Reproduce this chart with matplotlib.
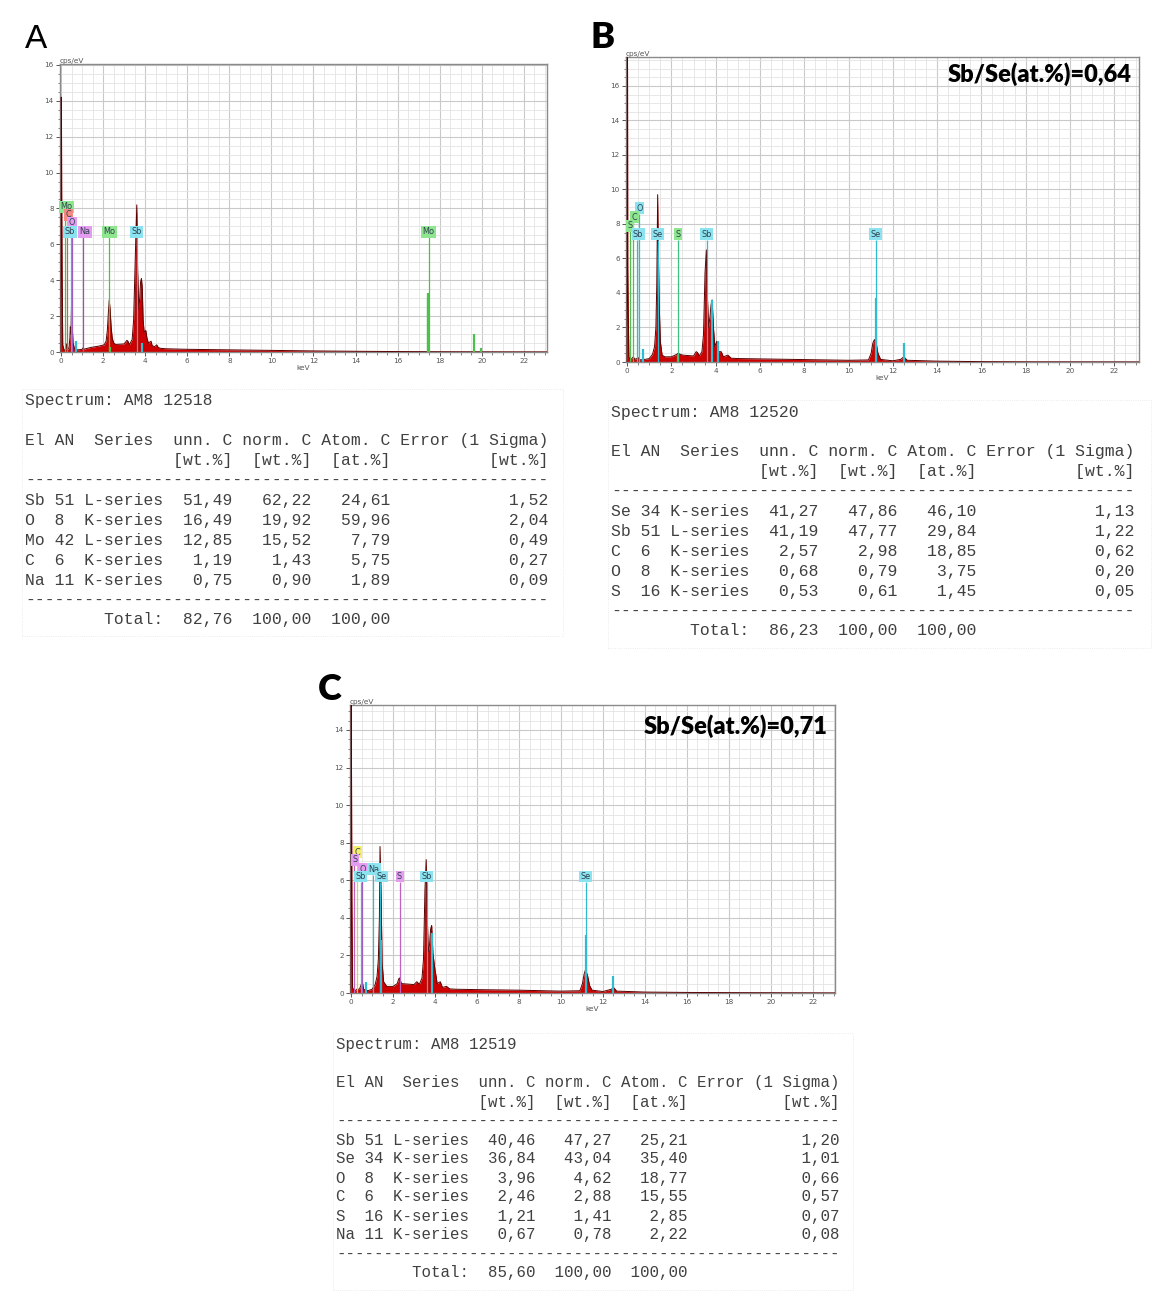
import matplotlib
matplotlib.use('Agg')
import matplotlib.pyplot as plt
from matplotlib.ticker import MultipleLocator
from matplotlib.patches import Rectangle

W, H = 1153, 1295
fig = plt.figure(figsize=(W / 100, H / 100), dpi=100)
fig.patch.set_facecolor('white')

# ---------------- DATA ----------------
# Spectrum A (keV, cps/eV)
A_spec = [(0.00, 0.0), (0.01, 14.2), (0.02, 13.2), (0.03, 9.0), (0.05, 4.5), (0.08, 0.4),
          (0.15, 0.08), (0.22, 0.15), (0.26, 0.45), (0.30, 0.12), (0.38, 0.25), (0.42, 0.8),
          (0.44, 1.4), (0.47, 1.0), (0.50, 2.8), (0.53, 1.5), (0.57, 0.5), (0.65, 0.15),
          (0.80, 0.12), (1.00, 0.15), (1.04, 0.22), (1.10, 0.16), (1.40, 0.25), (1.80, 0.33),
          (2.05, 0.40), (2.14, 0.60), (2.20, 1.2), (2.25, 2.2), (2.29, 2.9), (2.33, 2.4),
          (2.38, 1.4), (2.43, 0.8), (2.50, 0.5), (2.60, 0.42), (3.00, 0.45), (3.13, 0.65),
          (3.18, 0.6), (3.25, 0.4), (3.38, 0.7), (3.45, 1.8), (3.50, 4.0), (3.55, 6.2),
          (3.60, 8.2), (3.64, 4.5), (3.70, 2.4), (3.74, 3.0), (3.78, 3.9), (3.82, 4.1),
          (3.86, 3.6), (3.90, 1.8), (3.95, 1.1), (4.03, 1.2), (4.08, 0.8), (4.15, 0.5),
          (4.28, 0.6), (4.33, 0.35), (4.45, 0.3), (4.55, 0.4), (4.62, 0.25), (4.75, 0.2),
          (5.0, 0.18), (6.0, 0.15), (8.0, 0.12), (10.0, 0.09), (12.0, 0.06), (14.0, 0.04),
          (16.0, 0.025), (18.0, 0.015), (20.0, 0.01), (23.1, 0.005)]
# element-coloured fitted peaks A
A_ovl_kev = [0.70, 3.86, 17.42, 17.46, 19.61, 19.95, 2.32]
A_ovl_cps = [0.6, 0.5, 3.3, 3.0, 1.0, 0.2, 0.3]
A_ovl_col = ['#30bcd0', '#30bcd0', '#4cc04c', '#4cc04c', '#4cc04c', '#4cc04c', '#4cc04c']
# element markers A
A_mark_el = ['Mo', 'C', 'O', 'Sb', 'Na', 'Mo', 'Sb', 'Mo']
A_mark_kev = [0.19, 0.28, 0.52, 0.46, 1.04, 2.29, 3.60, 17.48]
A_mark_lbl = [0.26, 0.36, 0.52, 0.42, 1.12, 2.29, 3.60, 17.48]
A_mark_lvl = [8.1, 7.65, 7.2, 6.7, 6.7, 6.7, 6.7, 6.7]
A_mark_ln = ['#4cc04c', '#b07050', '#b050c0', '#30bcd0', '#a050b0', '#4cc04c', '#30bcd0', '#4cc04c']
A_mark_bx = ['#8ee68e', '#f28b82', '#e49cf0', '#8be3ef', '#e49cf0', '#8ee68e', '#8be3ef', '#8ee68e']

# Spectrum B
B_spec = [(0.00, 0.0), (0.01, 18.0), (0.02, 17.0), (0.03, 5.5), (0.05, 3.0), (0.08, 0.3),
          (0.15, 0.1), (0.28, 0.3), (0.35, 0.15), (0.50, 0.25), (0.60, 0.12), (0.80, 0.15),
          (1.00, 0.2), (1.15, 0.45), (1.24, 0.9), (1.30, 2.0), (1.34, 4.5), (1.38, 9.7),
          (1.41, 6.5), (1.45, 3.3), (1.50, 1.2), (1.58, 0.4), (1.70, 0.3), (2.00, 0.3),
          (2.25, 0.45), (2.30, 0.5), (2.50, 0.4), (3.00, 0.35), (3.12, 0.6), (3.18, 0.55),
          (3.26, 0.35), (3.38, 0.6), (3.45, 1.6), (3.52, 5.2), (3.58, 6.5), (3.62, 4.0),
          (3.68, 2.0), (3.74, 2.6), (3.79, 3.3), (3.84, 3.6), (3.90, 2.0), (3.96, 0.9),
          (4.05, 1.2), (4.10, 0.6), (4.25, 0.6), (4.35, 0.3), (4.55, 0.4), (4.70, 0.22),
          (5.0, 0.2), (6.0, 0.18), (8.0, 0.14), (10.0, 0.1), (10.9, 0.12), (11.02, 0.5),
          (11.10, 1.1), (11.17, 1.3), (11.25, 1.1), (11.33, 0.5), (11.45, 0.15), (12.0, 0.07),
          (12.35, 0.15), (12.50, 0.3), (12.65, 0.1), (14.0, 0.05), (16.0, 0.02), (18.0, 0.01),
          (23.1, 0.005)]
B_ovl_kev = [0.72, 3.84, 4.10, 11.22, 12.50, 2.31]
B_ovl_cps = [0.75, 3.6, 1.2, 3.7, 1.1, 0.4]
B_ovl_col = ['#30bcd0', '#30bcd0', '#30bcd0', '#30bcd0', '#30bcd0', '#4cc04c']
B_mark_el = ['O', 'C', 'S', 'Sb', 'Se', 'S', 'Sb', 'Se']
B_mark_kev = [0.52, 0.28, 0.15, 0.46, 1.38, 2.31, 3.60, 11.22]
B_mark_lbl = [0.55, 0.32, 0.15, 0.50, 1.38, 2.31, 3.60, 11.22]
B_mark_lvl = [8.9, 8.4, 7.9, 7.4, 7.4, 7.4, 7.4, 7.4]
B_mark_ln = ['#30bcd0', '#4cc04c', '#4cc04c', '#30bcd0', '#30bcd0', '#40c080', '#30bcd0', '#30bcd0']
B_mark_bx = ['#8be3ef', '#8ee68e', '#8ee68e', '#8be3ef', '#8be3ef', '#8ee68e', '#8be3ef', '#8be3ef']

# Spectrum C
C_spec = [(0.00, 0.0), (0.01, 15.5), (0.02, 12.5), (0.04, 5.0), (0.07, 0.3), (0.15, 0.1),
          (0.28, 0.2), (0.40, 0.2), (0.50, 0.5), (0.52, 0.7), (0.60, 0.2), (0.80, 0.12),
          (1.00, 0.2), (1.15, 0.45), (1.24, 0.9), (1.30, 1.8), (1.35, 4.0), (1.38, 7.8),
          (1.43, 5.2), (1.48, 1.6), (1.55, 0.6), (1.70, 0.35), (2.00, 0.35), (2.20, 0.5),
          (2.27, 0.75), (2.31, 0.8), (2.40, 0.5), (3.00, 0.45), (3.13, 0.6), (3.18, 0.55),
          (3.25, 0.45), (3.38, 0.8), (3.45, 1.8), (3.52, 5.5), (3.58, 7.1), (3.63, 4.0),
          (3.68, 2.2), (3.74, 2.6), (3.79, 3.4), (3.84, 3.6), (3.90, 2.1), (4.00, 1.2),
          (4.05, 0.9), (4.10, 0.5), (4.25, 0.6), (4.35, 0.3), (4.55, 0.35), (4.70, 0.22),
          (5.0, 0.2), (6.0, 0.18), (8.0, 0.15), (10.0, 0.1), (10.9, 0.12), (11.02, 0.5),
          (11.10, 1.0), (11.17, 1.25), (11.27, 0.9), (11.36, 0.4), (11.48, 0.15), (12.0, 0.08),
          (12.40, 0.2), (12.50, 0.3), (12.65, 0.1), (14.0, 0.05), (16.0, 0.03), (18.0, 0.02),
          (23.1, 0.005)]
C_ovl_kev = [0.72, 3.84, 11.17, 12.50, 1.42]
C_ovl_cps = [0.6, 3.2, 3.1, 0.9, 2.8]
C_ovl_col = ['#30bcd0', '#30bcd0', '#30bcd0', '#30bcd0', '#30bcd0']
C_mark_el = ['C', 'S', 'O', 'Na', 'Sb', 'Se', 'S', 'Sb', 'Se']
C_mark_kev = [0.28, 0.15, 0.52, 1.04, 0.46, 1.38, 2.31, 3.60, 11.17]
C_mark_lbl = [0.32, 0.17, 0.55, 1.08, 0.45, 1.45, 2.31, 3.60, 11.17]
C_mark_lvl = [7.5, 7.1, 6.6, 6.6, 6.2, 6.2, 6.2, 6.2, 6.2]
C_mark_ln = ['#e0d040', '#c060c0', '#b050c0', '#30bcd0', '#30bcd0', '#30bcd0', '#c060c0', '#30bcd0', '#30bcd0']
C_mark_bx = ['#f5f06a', '#e49cf0', '#e49cf0', '#8be3ef', '#8be3ef', '#8be3ef', '#e49cf0', '#8be3ef', '#8be3ef']

# Tables
A_title = 'Spectrum: AM8 12518'
A_el = ['Sb', 'O', 'Mo', 'C', 'Na']
A_an = [51, 8, 42, 6, 11]
A_ser = ['L-series', 'K-series', 'L-series', 'K-series', 'K-series']
A_unn = ['51,49', '16,49', '12,85', '1,19', '0,75']
A_norm = ['62,22', '19,92', '15,52', '1,43', '0,90']
A_atom = ['24,61', '59,96', '7,79', '5,75', '1,89']
A_err = ['1,52', '2,04', '0,49', '0,27', '0,09']
A_total = ['82,76', '100,00', '100,00']

B_title = 'Spectrum: AM8 12520'
B_el = ['Se', 'Sb', 'C', 'O', 'S']
B_an = [34, 51, 6, 8, 16]
B_ser = ['K-series', 'L-series', 'K-series', 'K-series', 'K-series']
B_unn = ['41,27', '41,19', '2,57', '0,68', '0,53']
B_norm = ['47,86', '47,77', '2,98', '0,79', '0,61']
B_atom = ['46,10', '29,84', '18,85', '3,75', '1,45']
B_err = ['1,13', '1,22', '0,62', '0,20', '0,05']
B_total = ['86,23', '100,00', '100,00']

C_title = 'Spectrum: AM8 12519'
C_el = ['Sb', 'Se', 'O', 'C', 'S', 'Na']
C_an = [51, 34, 8, 6, 16, 11]
C_ser = ['L-series', 'K-series', 'K-series', 'K-series', 'K-series', 'K-series']
C_unn = ['40,46', '36,84', '3,96', '2,46', '1,21', '0,67']
C_norm = ['47,27', '43,04', '4,62', '2,88', '1,41', '0,78']
C_atom = ['25,21', '35,40', '18,77', '15,55', '2,85', '2,22']
C_err = ['1,20', '1,01', '0,66', '0,57', '0,07', '0,08']
C_total = ['85,60', '100,00', '100,00']

ratio_B = 'Sb/Se(at.%)=0,64'
ratio_C = 'Sb/Se(at.%)=0,71'


# ---------------- HELPERS ----------------
def ax_px(l, t, r, b):
    return fig.add_axes([l / W, 1 - b / H, (r - l) / W, (b - t) / H])


def spectrum(ax, spec, ovl_kev, ovl_cps, ovl_col, m_el, m_kev, m_lbl, m_lvl, m_ln, m_bx,
             xmax, ymax, ystep=2):
    kev = [p[0] for p in spec]
    cps = [p[1] for p in spec]
    ax.set_xlim(-0.05, xmax)
    ax.set_ylim(0, ymax)
    ax.xaxis.set_major_locator(MultipleLocator(2))
    ax.xaxis.set_minor_locator(MultipleLocator(0.5))
    ax.yaxis.set_major_locator(MultipleLocator(ystep))
    ax.yaxis.set_minor_locator(MultipleLocator(0.5))
    ax.grid(True, which='minor', color='#e3e3e3', lw=0.6)
    ax.grid(True, which='major', color='#c9c9c9', lw=0.8)
    ax.set_axisbelow(True)
    ax.tick_params(which='both', labelsize=5.2, colors='#555555', direction='out', pad=1.5)
    ax.tick_params(which='major', length=3, width=0.7)
    ax.tick_params(which='minor', length=1.8, width=0.5)
    for s in ax.spines.values():
        s.set_color('#8a8a8a')
        s.set_linewidth(1.0)
    ax.fill_between(kev, cps, 0, color='#cc0000', lw=0, zorder=2)
    ax.plot(kev, cps, color='#5a0000', lw=0.7, zorder=3)
    ax.vlines(ovl_kev, 0, ovl_cps, colors=ovl_col, lw=1.6, zorder=4)
    for el, k, lk, lv, lc, bc in zip(m_el, m_kev, m_lbl, m_lvl, m_ln, m_bx):
        ax.vlines(k, 0, lv - 0.3, colors=lc, lw=0.9, zorder=5)
        ax.text(lk, lv, el, fontsize=5.9, ha='center', va='center', color='#2f4050', zorder=7,
                bbox=dict(boxstyle='square,pad=0.18', fc=bc, ec='none'))
    ax.text(0.0, 1.0, 'cps/eV', transform=ax.transAxes, fontsize=5.3, color='#555555',
            ha='left', va='bottom')
    ax.set_xlabel('keV', fontsize=5.3, color='#555555', labelpad=0.5)


def table(x, y0, pitch, size, title, el, an, ser, unn, norm, atom, err, total, x1, y_bot):
    kw = dict(family=['Liberation Mono', 'DejaVu Sans Mono'], fontsize=size, color='#404040',
              ha='left', va='center')
    lines = [title, '',
             'El AN  Series  unn. C norm. C Atom. C Error (1 Sigma)',
             ' ' * 15 + '[wt.%]' + '  ' + '[wt.%]' + '  ' + '[at.%]' + ' ' * 10 + '[wt.%]',
             '-' * 53]
    for e, a, s, u, n, t, r in zip(el, an, ser, unn, norm, atom, err):
        lines.append(f'{e:<2} {a:<2} {s}' + f'{u:>7}' + f'{n:>8}' + f'{t:>8}' + f'{r:>16}')
    lines.append('-' * 53)
    lines.append(' ' * 8 + 'Total:' + f'{total[0]:>7}' + f'{total[1]:>8}' + f'{total[2]:>8}')
    for i, s in enumerate(lines):
        if s:
            fig.text(x / W, 1 - (y0 + i * pitch) / H, s, **kw)
    fig.patches.append(Rectangle(((x - 3) / W, 1 - y_bot / H), (x1 - x + 6) / W,
                                 (y_bot - (y0 - 12)) / H, transform=fig.transFigure,
                                 fill=False, ec='#e6e6e6', lw=0.6, ls=':'))


# ---------------- PANEL A ----------------
axA = ax_px(60, 64, 547, 352)
spectrum(axA, A_spec, A_ovl_kev, A_ovl_cps, A_ovl_col, A_mark_el, A_mark_kev, A_mark_lbl,
         A_mark_lvl, A_mark_ln, A_mark_bx, 23.1, 16.05)
fig.text(36 / W, 1 - 40 / H, 'A', fontsize=24, family='Liberation Sans', ha='center',
         va='center', color='black')
table(25, 401, 19.9, 11.8, A_title, A_el, A_an, A_ser, A_unn, A_norm, A_atom, A_err, A_total,
      560, 636)

# ---------------- PANEL B ----------------
axB = ax_px(626, 57, 1139, 362)
spectrum(axB, B_spec, B_ovl_kev, B_ovl_cps, B_ovl_col, B_mark_el, B_mark_kev, B_mark_lbl,
         B_mark_lvl, B_mark_ln, B_mark_bx, 23.12, 17.68)
fig.text(603 / W, 1 - 37 / H, 'B', fontsize=26, family='Lato', weight='heavy', ha='center',
         va='center', color='black')
axB.text(0.985, 0.945, ratio_B, transform=axB.transAxes, fontsize=17, family='Lato',
         weight='heavy', ha='right', va='center', color='black', zorder=8)
table(611, 412, 19.9, 11.9, B_title, B_el, B_an, B_ser, B_unn, B_norm, B_atom, B_err, B_total,
      1148, 648)

# ---------------- PANEL C ----------------
axC = ax_px(350, 705, 835, 993)
spectrum(axC, C_spec, C_ovl_kev, C_ovl_cps, C_ovl_col, C_mark_el, C_mark_kev, C_mark_lbl,
         C_mark_lvl, C_mark_ln, C_mark_bx, 23.05, 15.33)
fig.text(330 / W, 1 - 689 / H, 'C', fontsize=26, family='Lato', weight='heavy', ha='center',
         va='center', color='black')
axC.text(0.985, 0.925, ratio_C, transform=axC.transAxes, fontsize=17, family='Lato',
         weight='heavy', ha='right', va='center', color='black', zorder=8)
table(336, 1045, 19.0, 11.35, C_title, C_el, C_an, C_ser, C_unn, C_norm, C_atom, C_err, C_total,
      850, 1290)

fig.savefig('out.png', dpi=100, facecolor='white')
